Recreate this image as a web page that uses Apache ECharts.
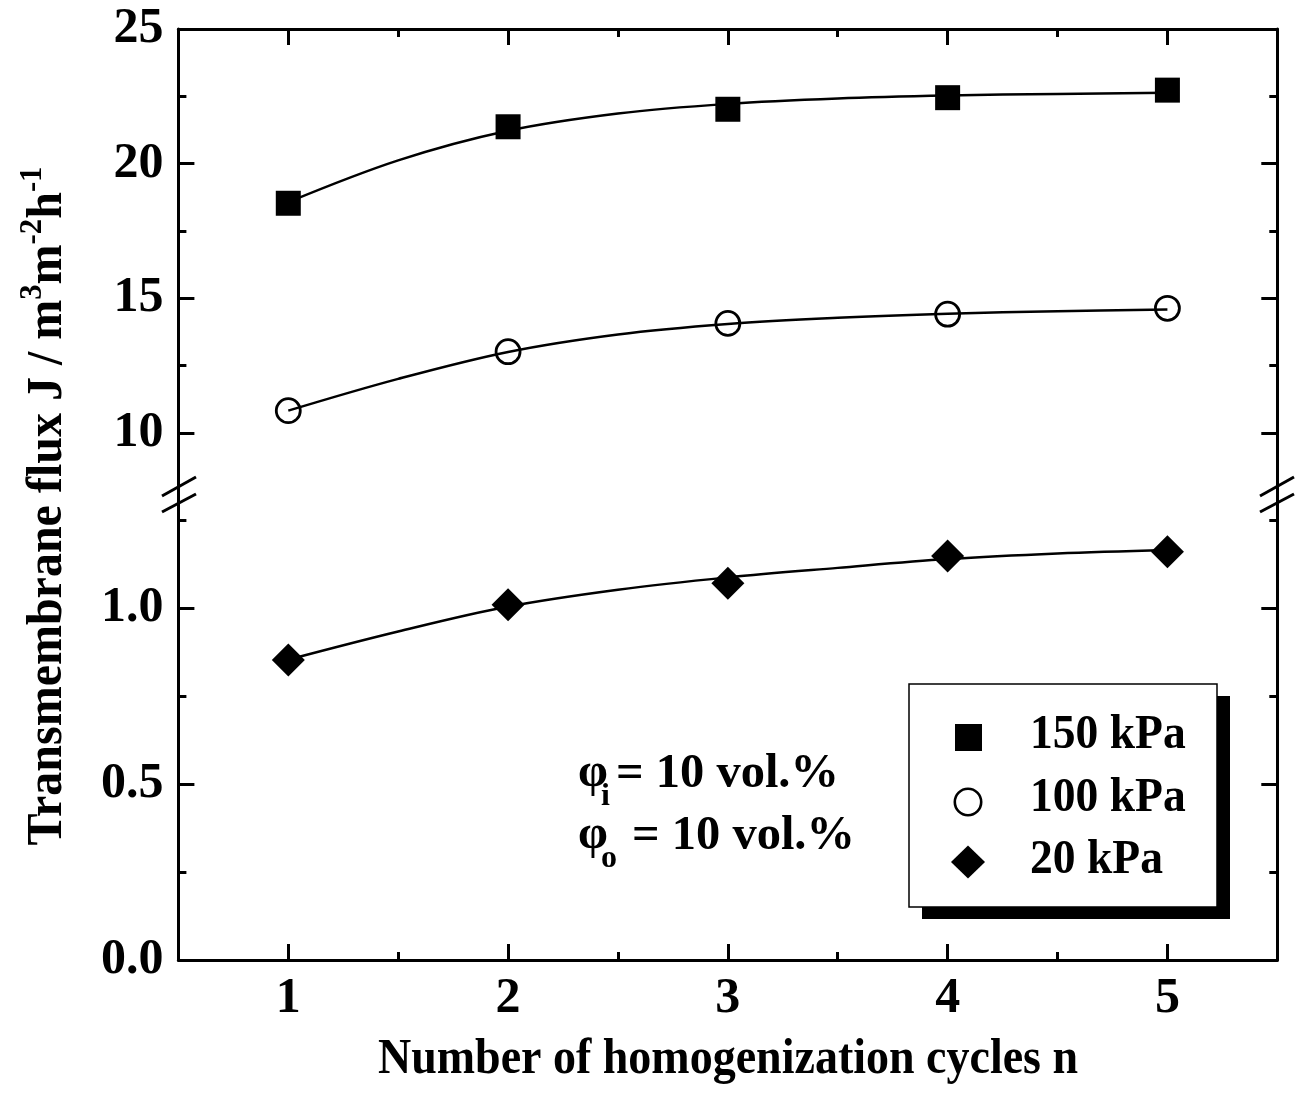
<!DOCTYPE html>
<html>
<head>
<meta charset="utf-8">
<script src="https://cdn.jsdelivr.net/npm/echarts@6/dist/echarts.min.js"></script>
<style>
  html, body { margin: 0; padding: 0; background: #fff; }
  #chart { width: 1300px; height: 1093px; }
</style>
</head>
<body>
<div id="chart"></div>
<script>
// Measured flux per homogenization cycle at three transmembrane pressures
const cycles = [1, 2, 3, 4, 5];
const flux150 = [18.53, 21.37, 22.02, 22.45, 22.73];
const flux100 = [10.83, 13.02, 14.07, 14.41, 14.63];
const flux20 = [0.852, 1.009, 1.070, 1.148, 1.160];

// Fitted trend curves
const fitCycles = [1, 1.5, 2, 2.5, 3, 3.5, 4, 4.5, 5];
const fit150 = [18.57, 20.12, 21.22, 21.86, 22.22, 22.42, 22.53, 22.59, 22.63];
const fit100 = [10.83, 12.01, 13.01, 13.66, 14.05, 14.28, 14.43, 14.52, 14.59];
const fit20 = [0.853, 0.933, 1.004, 1.052, 1.087, 1.114, 1.139, 1.155, 1.165];

const seriesNames = ['150 kPa', '100 kPa', '20 kPa'];

// Tick positions
const xTicks = [1, 2, 3, 4, 5];
const xMinorTicks = [1.5, 2.5, 3.5, 4.5];
const upperTicks = [10, 15, 20, 25];
const upperMinorTicks = [12.5, 17.5, 22.5];
const lowerTicks = [0, 0.5, 1.0];
const lowerMinorTicks = [0.25, 0.75, 1.25];

const FONT = 'Liberation Serif';
const INK = '#000';
const AXIS_LINE = { color: INK, width: 3 };
const MAJOR = 16, MINOR = 8;

// Upper segment: 25 at y=29, 10 at y=433; lower segment: 0 at y=960, 1 at y=608
const BREAK_Y = 495;
const UPPER_MIN = 10 - (BREAK_Y - 433) / ((433 - 29) / 15);
const LOWER_MAX = (960 - BREAK_Y) / 352;

const labelStyle = { color: INK, fontFamily: FONT, fontWeight: 'bold', fontSize: 50 };

function xAxis(grid, position, ticks, len, withLine, withLabels) {
  return {
    type: 'value', gridIndex: grid, position: position, min: 0.5, max: 5.5,
    axisLine: { show: withLine, onZero: false, lineStyle: AXIS_LINE },
    axisTick: { show: true, inside: true, length: len, customValues: ticks, lineStyle: AXIS_LINE },
    axisLabel: withLabels
      ? Object.assign({ show: true, customValues: ticks, margin: 14 }, labelStyle)
      : { show: false },
    splitLine: { show: false }
  };
}

function yAxis(grid, position, min, max, ticks, len, withLine, withLabels, fmt) {
  return {
    type: 'value', gridIndex: grid, position: position, min: min, max: max,
    axisLine: { show: withLine, onZero: false, lineStyle: AXIS_LINE },
    axisTick: { show: true, inside: true, length: len, customValues: ticks, lineStyle: AXIS_LINE },
    axisLabel: withLabels
      ? Object.assign({ show: true, customValues: ticks, margin: 15, formatter: fmt }, labelStyle)
      : { show: false },
    splitLine: { show: false }
  };
}

const pairs = (xs, ys) => xs.map((x, i) => [x, ys[i]]);

const fitLine = (name, xi, yi, data) => ({
  name: name, type: 'line', xAxisIndex: xi, yAxisIndex: yi, data: data,
  smooth: 0.35, showSymbol: false, symbol: 'none', silent: true, z: 2,
  lineStyle: { color: INK, width: 2.5 }
});

const points = (name, xi, yi, data, symbol, size, itemStyle) => ({
  name: name, type: 'scatter', xAxisIndex: xi, yAxisIndex: yi, data: data,
  symbol: symbol, symbolSize: size, itemStyle: Object.assign({ opacity: 1 }, itemStyle), z: 5, silent: true
});

const txt = (extra) => Object.assign({ fill: INK, fontFamily: FONT, fontWeight: 'bold' }, extra);

const chart = echarts.init(document.getElementById('chart'), null, { renderer: 'canvas' });

chart.setOption({
  backgroundColor: '#fff',
  animation: false,
  grid: [
    { left: 178.4, right: 22.7, top: 29, height: BREAK_Y - 29, containLabel: false, outerBoundsMode: 'none' },
    { left: 178.4, right: 22.7, top: BREAK_Y, bottom: 133, containLabel: false, outerBoundsMode: 'none' }
  ],
  xAxis: [
    xAxis(0, 'top', xTicks, MAJOR, true, false),
    xAxis(0, 'top', xMinorTicks, MINOR, false, false),
    xAxis(1, 'bottom', xTicks, MAJOR, true, true),
    xAxis(1, 'bottom', xMinorTicks, MINOR, false, false)
  ],
  yAxis: [
    yAxis(0, 'left', UPPER_MIN, 25, upperTicks, MAJOR, true, true, v => String(v)),
    yAxis(0, 'left', UPPER_MIN, 25, upperMinorTicks, MINOR, false, false),
    yAxis(0, 'right', UPPER_MIN, 25, upperTicks, MAJOR, true, false),
    yAxis(0, 'right', UPPER_MIN, 25, upperMinorTicks, MINOR, false, false),
    yAxis(1, 'left', 0, LOWER_MAX, lowerTicks, MAJOR, true, true, v => v.toFixed(1)),
    yAxis(1, 'left', 0, LOWER_MAX, lowerMinorTicks, MINOR, false, false),
    yAxis(1, 'right', 0, LOWER_MAX, lowerTicks, MAJOR, true, false),
    yAxis(1, 'right', 0, LOWER_MAX, lowerMinorTicks, MINOR, false, false)
  ],
  series: [
    fitLine(seriesNames[0] + ' fit', 0, 0, pairs(fitCycles, fit150)),
    fitLine(seriesNames[1] + ' fit', 0, 0, pairs(fitCycles, fit100)),
    fitLine(seriesNames[2] + ' fit', 2, 4, pairs(fitCycles, fit20)),
    points(seriesNames[0], 0, 0, pairs(cycles, flux150), 'rect', 25, { color: INK }),
    points(seriesNames[1], 0, 0, pairs(cycles, flux100), 'circle', 24,
      { color: 'rgba(0,0,0,0)', borderColor: INK, borderWidth: 2.8 }),
    points(seriesNames[2], 2, 4, pairs(cycles, flux20), 'diamond', 33, { color: INK })
  ],
  graphic: [
    // axis break marks
    { type: 'line', shape: { x1: 162, y1: 496, x2: 196, y2: 477 }, style: { stroke: INK, lineWidth: 3 }, z: 50 },
    { type: 'line', shape: { x1: 162, y1: 512, x2: 196, y2: 494 }, style: { stroke: INK, lineWidth: 3 }, z: 50 },
    { type: 'line', shape: { x1: 1260, y1: 496, x2: 1294, y2: 477 }, style: { stroke: INK, lineWidth: 3 }, z: 50 },
    { type: 'line', shape: { x1: 1260, y1: 512, x2: 1294, y2: 494 }, style: { stroke: INK, lineWidth: 3 }, z: 50 },

    // axis titles
    {
      type: 'text', x: 728, y: 1060, scaleX: 0.92, z: 50,
      style: txt({ text: 'Number of homogenization cycles n', fontSize: 50, align: 'center', verticalAlign: 'middle' })
    },
    {
      type: 'text', x: 45, y: 506, rotation: Math.PI / 2, scaleX: 0.96, z: 50,
      style: {
        text: '{t|Transmembrane flux J / m}{s|3}{t|m}{s|-2}{t|h}{s|-1}',
        align: 'center', verticalAlign: 'middle',
        rich: {
          t: { fill: INK, fontFamily: FONT, fontWeight: 'bold', fontSize: 50, lineHeight: 56, verticalAlign: 'bottom' },
          s: { fill: INK, fontFamily: FONT, fontWeight: 'bold', fontSize: 32, lineHeight: 32, verticalAlign: 'top' }
        }
      }
    },

    // volume fraction note
    { type: 'text', x: 578, y: 774, z: 50, style: txt({ text: 'φ', fontSize: 48, verticalAlign: 'middle' }) },
    { type: 'text', x: 601, y: 797, z: 50, style: txt({ text: 'i', fontSize: 32, verticalAlign: 'middle' }) },
    { type: 'text', x: 616, y: 774, z: 50, style: txt({ text: '= 10 vol.%', fontSize: 48.5, verticalAlign: 'middle' }) },
    { type: 'text', x: 578, y: 836, z: 50, style: txt({ text: 'φ', fontSize: 48, verticalAlign: 'middle' }) },
    { type: 'text', x: 601, y: 859, z: 50, style: txt({ text: 'o', fontSize: 32, verticalAlign: 'middle' }) },
    { type: 'text', x: 632, y: 836, z: 50, style: txt({ text: '= 10 vol.%', fontSize: 48.5, verticalAlign: 'middle' }) },

    // legend
    { type: 'rect', shape: { x: 922, y: 696, width: 308, height: 223 }, style: { fill: INK }, z: 40 },
    { type: 'rect', shape: { x: 909, y: 684, width: 308, height: 223 }, style: { fill: '#fff', stroke: INK, lineWidth: 1.5 }, z: 41 },
    { type: 'rect', shape: { x: 955, y: 724, width: 27, height: 27 }, style: { fill: INK }, z: 42 },
    { type: 'circle', shape: { cx: 968, cy: 802, r: 13.2 }, style: { fill: '#fff', stroke: INK, lineWidth: 2.6 }, z: 42 },
    { type: 'polygon', shape: { points: [[968, 845.5], [985, 862], [968, 878.5], [951, 862]] }, style: { fill: INK }, z: 42 },
    { type: 'text', x: 1030, y: 735, scaleX: 0.93, z: 42, style: txt({ text: seriesNames[0], fontSize: 49, verticalAlign: 'middle' }) },
    { type: 'text', x: 1030, y: 798, scaleX: 0.93, z: 42, style: txt({ text: seriesNames[1], fontSize: 49, verticalAlign: 'middle' }) },
    { type: 'text', x: 1030, y: 860, scaleX: 0.93, z: 42, style: txt({ text: seriesNames[2], fontSize: 49, verticalAlign: 'middle' }) }
  ]
});
</script>
</body>
</html>
